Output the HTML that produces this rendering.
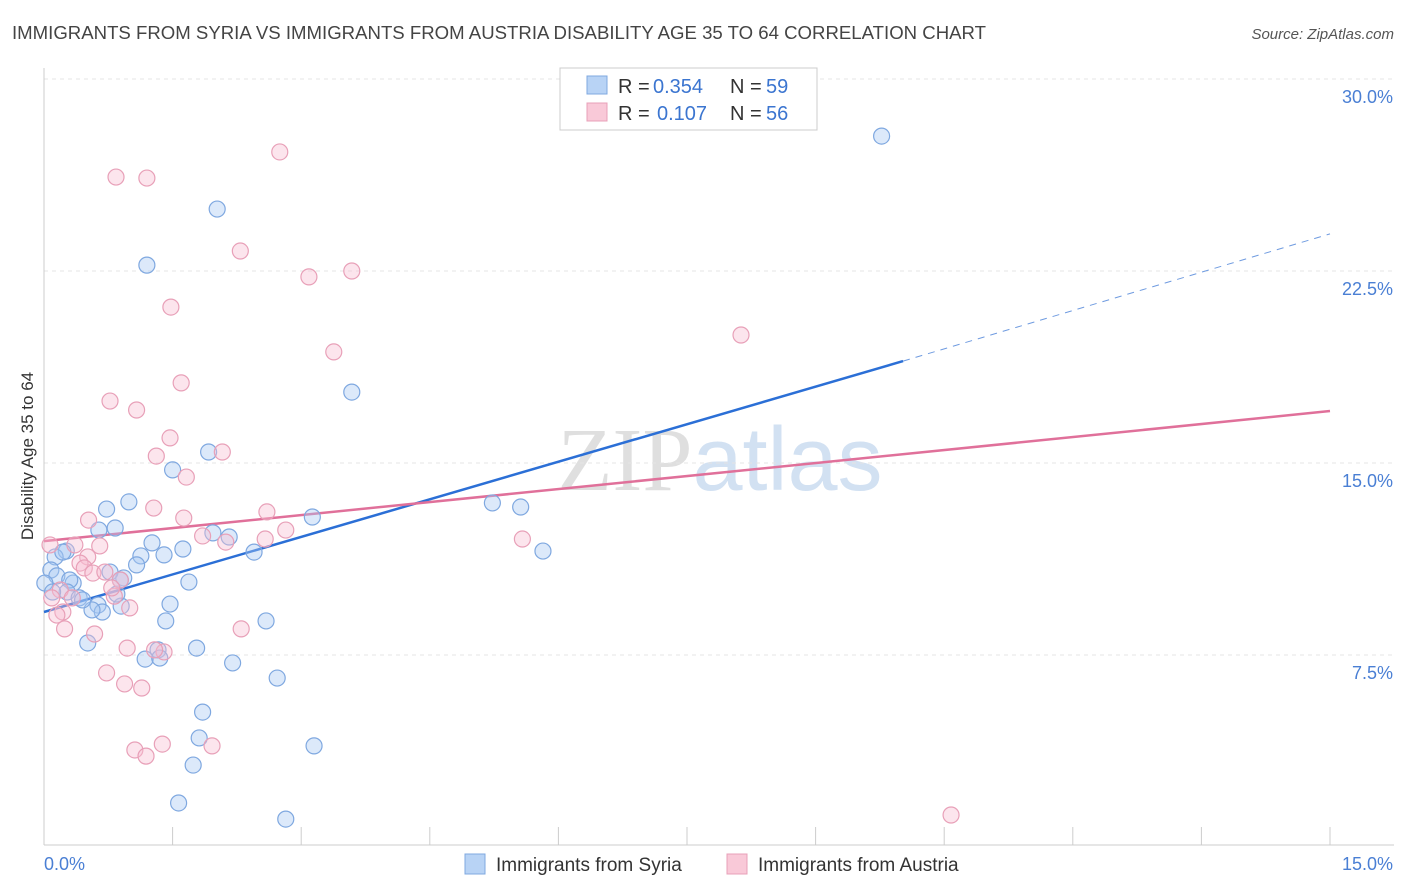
<!DOCTYPE html>
<html><head><meta charset="utf-8"><style>
body{margin:0;background:#fff;font-family:"Liberation Sans",sans-serif}
svg{display:block}
</style></head><body>
<svg id="chart" width="1406" height="892" xmlns="http://www.w3.org/2000/svg" font-family="Liberation Sans, sans-serif">
<text x="12" y="39" font-size="18" fill="#444" textLength="974" lengthAdjust="spacingAndGlyphs">IMMIGRANTS FROM SYRIA VS IMMIGRANTS FROM AUSTRIA DISABILITY AGE 35 TO 64 CORRELATION CHART</text>
<text x="1394" y="39" font-size="15" fill="#555" text-anchor="end" font-style="italic">Source: ZipAtlas.com</text>
<text x="720" y="490" font-size="90" text-anchor="middle" fill="#ddd" opacity="0.8"><tspan font-family="Liberation Serif, serif" fill="#d8d8d8">ZIP</tspan><tspan fill="#c8daf0">atlas</tspan></text>
<text transform="translate(33,456) rotate(-90)" font-size="17" fill="#333" text-anchor="middle">Disability Age 35 to 64</text>
<g id="grid"></g><g id="axes"></g><g id="lines"></g><g id="pts"></g>
<g>
<rect x="560" y="68" width="257" height="62" fill="#fff" stroke="#ccc"/>
<rect x="587" y="76" width="20" height="18" fill="#b8d3f5" stroke="#7fa8e0"/>
<text x="618" y="93" font-size="20" fill="#333">R =</text>
<text x="653" y="93" font-size="20" fill="#3b75d0">0.354</text>
<text x="730" y="93" font-size="20" fill="#333">N =</text>
<text x="766" y="93" font-size="20" fill="#3b75d0">59</text>
<rect x="587" y="103" width="20" height="18" fill="#f9c9d8" stroke="#e8a0b8"/>
<text x="618" y="120" font-size="20" fill="#333">R =</text>
<text x="657" y="120" font-size="20" fill="#3b75d0">0.107</text>
<text x="730" y="120" font-size="20" fill="#333">N =</text>
<text x="766" y="120" font-size="20" fill="#3b75d0">56</text>
</g>
<g>
<rect x="465" y="854" width="20" height="20" fill="#b8d3f5" stroke="#7fa8e0"/>
<text x="496" y="871" font-size="19" fill="#333">Immigrants from Syria</text>
<rect x="727" y="854" width="20" height="20" fill="#f9c9d8" stroke="#e8a0b8"/>
<text x="758" y="871" font-size="19" fill="#333">Immigrants from Austria</text>
</g>
</svg>
<script>
const yTicks=[7.5,15,22.5,30];
const yTickLabels=["7.5%","15.0%","22.5%","30.0%"];
const xTicks=[0,1.5,3,4.5,6,7.5,9,10.5,12,13.5,15];
const syriaX=[9.77,2.02,1.20,3.59,1.92,1.50,5.23,5.56,5.82,3.13,0.99,0.73,0.83,0.64,1.26,1.62,1.40,1.13,2.16,1.97,2.45,0.26,0.13,0.22,0.08,0.15,0.34,0.30,0.27,0.41,0.63,0.68,0.56,0.90,0.85,0.93,1.08,0.77,1.69,1.47,1.42,2.59,0.51,1.33,1.18,1.78,2.20,2.72,1.85,1.81,3.15,1.74,1.57,2.82,0.01,0.10,0.45,0.89,1.35];
const syriaY=[27.77,24.92,22.73,17.77,15.43,14.73,13.44,13.28,11.56,12.89,13.48,13.20,12.46,12.38,11.88,11.64,11.41,11.37,12.11,12.27,11.52,11.56,11.33,11.52,10.82,10.59,10.31,10.43,9.96,9.73,9.45,9.18,9.26,9.41,9.88,10.51,11.02,10.74,10.35,9.49,8.83,8.83,7.97,7.70,7.34,7.77,7.19,6.60,5.27,4.26,3.95,3.20,1.72,1.09,10.31,9.96,9.65,10.43,7.38];
const austriaX=[2.75,0.84,1.20,2.29,3.59,3.09,1.48,8.13,3.38,1.60,0.77,1.08,1.47,2.08,1.31,1.66,1.28,1.63,0.52,2.60,2.82,2.58,2.12,1.85,5.58,0.07,0.36,0.65,0.51,0.42,0.47,0.57,0.71,0.89,0.19,0.09,0.22,0.15,0.24,1.00,0.82,0.59,2.30,0.97,1.40,1.29,0.73,0.94,1.14,1.06,1.19,1.38,1.96,10.58,0.33,0.79];
const austriaY=[27.15,26.17,26.13,23.28,22.50,22.27,21.09,20.00,19.34,18.13,17.42,17.07,15.98,15.43,15.27,14.45,13.24,12.85,12.77,13.09,12.38,12.03,11.91,12.15,12.03,11.80,11.80,11.76,11.33,11.09,10.90,10.70,10.74,10.43,10.04,9.73,9.18,9.06,8.52,9.34,9.80,8.32,8.52,7.77,7.62,7.70,6.80,6.37,6.21,3.79,3.55,4.02,3.95,1.25,9.73,10.12];
const syriaTrend=[[0,9.18],[10.02,18.98]];
const syriaTrendExt=[[10.02,18.98],[15,23.95]];
const austriaTrend=[[0,11.95],[15,17.03]];

const X=v=>44+v/15*1286, Y=v=>847-v/7.5*192;
const NS="http://www.w3.org/2000/svg";
function mk(tag,attrs,parent){const e=document.createElementNS(NS,tag);for(const k in attrs)e.setAttribute(k,attrs[k]);document.getElementById(parent).appendChild(e);return e;}
yTicks.forEach((t,i)=>{
 const g=mk('line',{x1:44,x2:1394,y1:Y(t),y2:Y(t),stroke:'#e4e4e4','stroke-dasharray':'4,4'},'grid');
 
 
 const l=mk('text',{x:1393,y:Y(t)+24,'font-size':18,fill:'#4a7fd4','text-anchor':'end'},'grid');
 l.textContent=yTickLabels[i];
 
 
});
const ya=mk('line',{x1:44,x2:44,y1:68,y2:845,stroke:'#ccc'},'axes');


const xa=mk('line',{x1:44,x2:1394,y1:845,y2:845,stroke:'#ccc'},'axes');


xTicks.forEach(t=>{const k=mk('line',{x1:X(t),x2:X(t),y1:827,y2:845,stroke:'#ccc'},'axes');
 
 });
const x0=mk('text',{x:44,y:870,'font-size':18,fill:'#4a7fd4'},'axes');x0.textContent='0.0%';


const x1=mk('text',{x:1393,y:870,'font-size':18,fill:'#4a7fd4','text-anchor':'end'},'axes');x1.textContent='15.0%';


function line(p,stroke,dash,name){const l=mk('line',{x1:X(p[0][0]),y1:Y(p[0][1]),x2:X(p[1][0]),y2:Y(p[1][1]),stroke:stroke,'stroke-width':dash?1:2.5},'lines');if(dash)l.setAttribute('stroke-dasharray','7,6');
 
 }
function pts(xs,ys,fill,stroke,name){xs.forEach((x,i)=>{const c=mk('circle',{cx:X(x),cy:Y(ys[i]),r:8,fill:fill,stroke:stroke,'stroke-width':1.2},'pts');
 
 });}
pts(syriaX,syriaY,'rgba(168,200,242,0.4)','#7fa8e0','syria-point');
pts(austriaX,austriaY,'rgba(248,190,210,0.4)','#e8a0b8','austria-point');
line(syriaTrend,'#2b6fd6',false,'syria-trendline');
line(syriaTrendExt,'#6f9be0',true,'syria-trendline-extension');
line(austriaTrend,'#e0709a',false,'austria-trendline');
</script>
</body></html>
